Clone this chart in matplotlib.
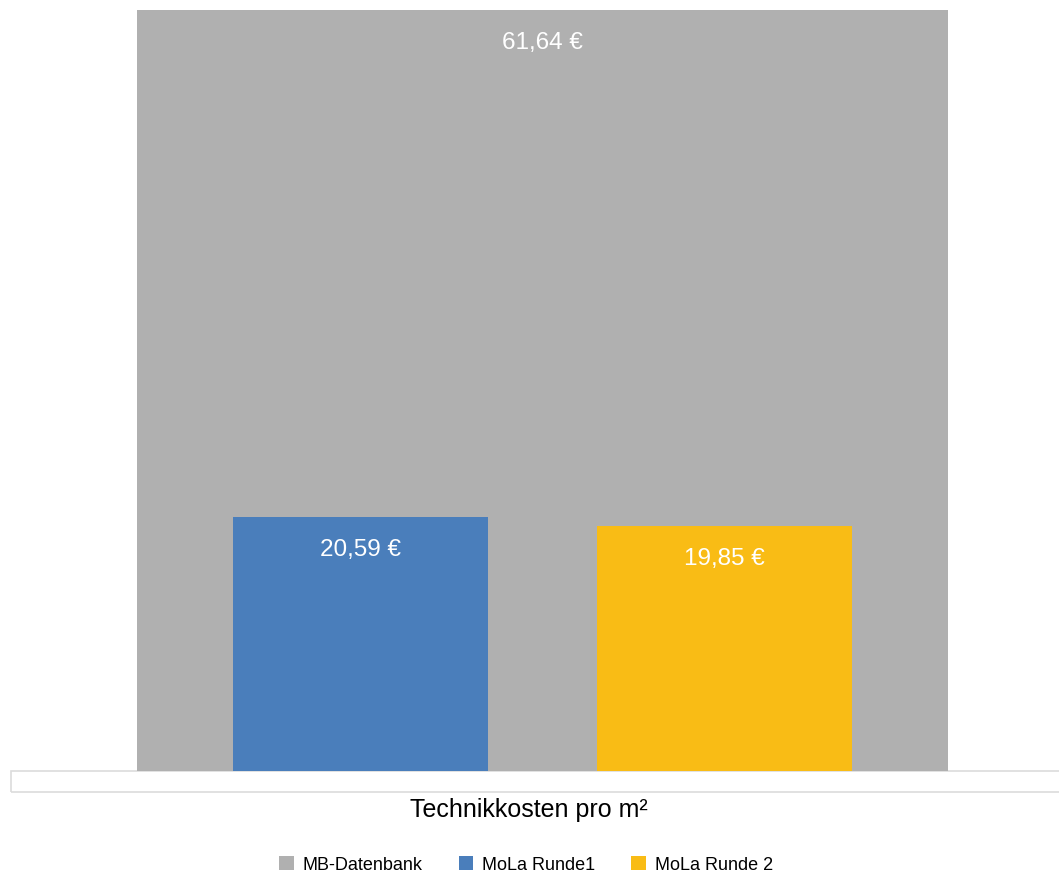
import matplotlib.pyplot as plt
from matplotlib.patches import Rectangle

plt.rcParams['font.family'] = ['Liberation Sans', 'DejaVu Sans']

category = "Technikkosten pro m²"
series = ["MB-Datenbank", "MoLa Runde1", "MoLa Runde 2"]
values = [61.64, 20.59, 19.85]
labels = ["61,64 €", "20,59 €", "19,85 €"]
colors = ["#b0b0b0", "#4a7ebb", "#f9bc15"]

# bar layout (grey bar sits behind the two narrower ones)
offsets = [0.0, -0.2244, 0.2244]
widths = [1.0, 0.3144, 0.3144]

fig = plt.figure(figsize=(10.59, 8.75), dpi=100)
ax = fig.add_axes([11 / 1059, 1 - 771 / 875, 1 - 11 / 1059, 762 / 875])

for name, v, lab, c, off, w in zip(series, values, labels, colors, offsets, widths):
    ax.bar(off, v, width=w, color=c, label=name, zorder=2)
    ax.annotate(lab, (off, v), xytext=(0, -33), textcoords='offset pixels',
                ha='center', va='center', color='white', fontsize=17.5, zorder=3)

ax.set_xlim(-0.6554, 0.6369)
ax.set_ylim(0, 61.64 * 762 / 761)
ax.axis('off')

# the light box under the baseline
ax.add_patch(Rectangle((0, -21 / 762), 1.01, 21 / 762, transform=ax.transAxes,
                       fill=False, edgecolor='#dcdcdc', lw=1.2, clip_on=False))

fig.text(529 / 1059, 1 - 810 / 875, category, ha='center', va='center', fontsize=18)

leg = fig.legend(loc='center', bbox_to_anchor=(526 / 1059, 1 - 865 / 875), ncol=3,
                 frameon=False, fontsize=13, handlelength=0.8, handleheight=0.8,
                 handletextpad=0.5, columnspacing=2.0)

fig.savefig("out.png", dpi=100)
